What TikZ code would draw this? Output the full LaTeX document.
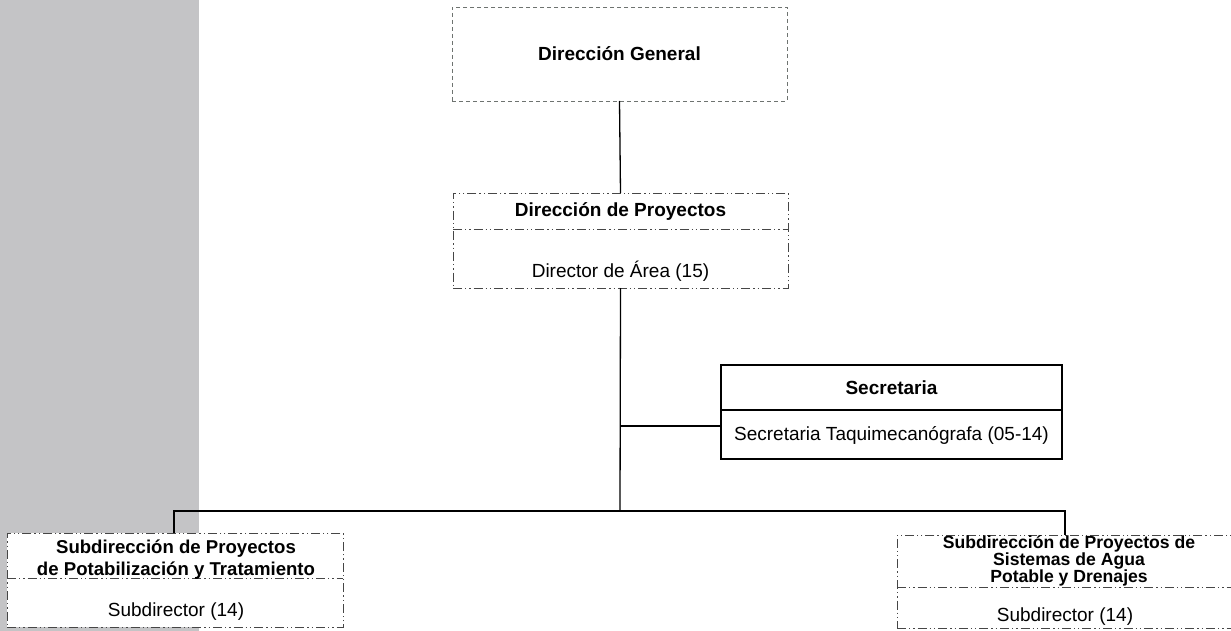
\documentclass[tikz,border=0pt]{standalone}
\usepackage{fontspec}
\setmainfont{Liberation Sans}
\definecolor{bandgray}{RGB}{196,196,198}
\definecolor{dashgrey}{RGB}{110,115,112}
\definecolor{ddgrey}{RGB}{70,70,70}
\newcommand{\tightlines}{\lineskiplimit-30pt\relax\lineskip0pt\relax}
\tikzset{
  dgbox/.style={draw=dashgrey, line width=0.9pt, dash pattern=on 4pt off 3pt, fill=white, inner sep=0pt, outer sep=0pt},
  ddbox/.style={draw=ddgrey, line width=0.9pt, dash pattern=on 9pt off 3pt on 1.3pt off 3pt on 1.3pt off 3pt, fill=white, inner sep=0pt, outer sep=0pt},
  ddline/.style={draw=ddgrey, line width=0.9pt, dash pattern=on 9pt off 3pt on 1.3pt off 3pt on 1.3pt off 3pt},
  solidbox/.style={draw=black, line width=1.1pt, fill=white, inner sep=0pt, outer sep=0pt},
  conn/.style={draw=black, line width=1.3pt},
  ttl/.style={font=\fontsize{19}{22}\selectfont\bfseries, inner sep=0pt, align=center},
  sub/.style={font=\fontsize{19}{22}\selectfont, inner sep=0pt, align=center},
}
\begin{document}
\begin{tikzpicture}[x=1pt,y=-1pt]
\useasboundingbox (0,0) rectangle (1231,631);
\clip (0,0) rectangle (1231,631);
\fill[bandgray] (0,0) rectangle (199,631);

% Direccion General
\node[dgbox, minimum width=335pt, minimum height=94pt] (dg) at (619.5,54) {};
\node[ttl] (dgt) at (619.5,54) {Dirección General};

% Direccion de Proyectos
\node[ddbox, minimum width=335pt, minimum height=95pt] (dp) at (620.5,240.5) {};
\coordinate (dpl) at (453,229);
\coordinate (dpr) at (788,229);
\draw[ddline] (dpl) -- (dpr);
\node[ttl] (dpt) at (620.5,212) {Dirección de Proyectos};
\node[sub] (dps) at (620.5,271) {Director de Área (15)};

% Secretaria
\node[solidbox, minimum width=341pt, minimum height=94pt] (sec) at (891.5,412) {};
\coordinate (secl) at (721,410);
\coordinate (secr) at (1062,410);
\draw[line width=1.1pt] (secl) -- (secr);
\node[ttl] (sect) at (891.5,388) {Secretaria};
\node[sub] (secs) at (891.5,435) {Secretaria Taquimecanógrafa (05-14)};

% Left subdireccion
\node[ddbox, minimum width=336pt, minimum height=94pt] (sl) at (175,580) {};
\coordinate (sll) at (7,578);
\coordinate (slr) at (343,578);
\draw[ddline] (sll) -- (slr);
\node[ttl, font={\fontsize{18.6}{22}\selectfont\bfseries}] (slt) at (176,560) {Subdirección de Proyectos\\de Potabilización y Tratamiento};
\node[sub] (sls) at (176,612) {Subdirector (14)};

% Right subdireccion
\node[ddbox, minimum width=343pt, minimum height=93pt] (sr) at (1068.5,581.5) {};
\coordinate (srl) at (897,587);
\coordinate (srr) at (1240,587);
\draw[ddline] (srl) -- (srr);
\node[ttl, font={\fontsize{17.6}{17.2}\selectfont\bfseries\tightlines}] (srt) at (1069,561) {Subdirección de Proyectos de\\Sistemas de Agua\\Potable y Drenajes};
\node[sub] (srs) at (1065,617) {Subdirector (14)};

% connectors
\coordinate (bus) at (620,511);
\coordinate (busl) at (174,511);
\coordinate (busr) at (1065,511);
\coordinate (secj) at (620,426);
\draw[conn] (dg.south) -- (dp.north);
\draw[conn] (dp.south) -- (bus);
\draw[conn] (secj) -- (sec.west |- secj);
\draw[conn] (sl.north -| busl) -- (busl) -- (busr) -- (sr.north -| busr);
\end{tikzpicture}
\end{document}
